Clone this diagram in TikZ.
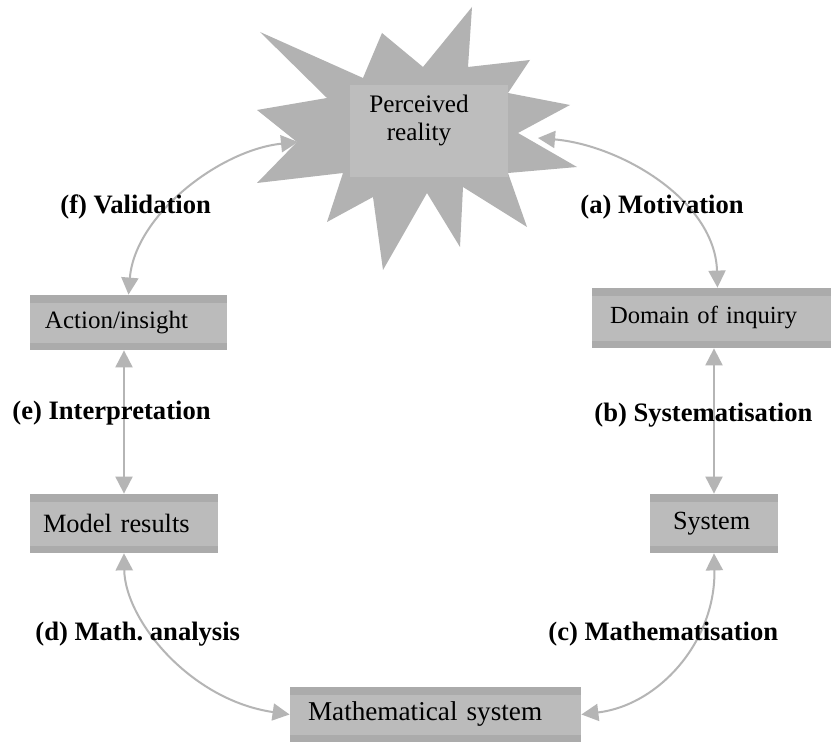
\documentclass[tikz,border=0pt]{standalone}
\usepackage{fontspec}
\setmainfont{Liberation Serif}
\usepackage{xcolor}
\usetikzlibrary{arrows.meta}
\frenchspacing

\definecolor{stargray}{HTML}{B2B2B2}
\definecolor{innergray}{HTML}{BDBDBD}
\definecolor{boxgray}{HTML}{BBBBBB}
\definecolor{bandgray}{HTML}{ABABAB}
\definecolor{arrowgray}{HTML}{B5B5B5}

\tikzset{
  stepbox/.style={fill=boxgray, inner ysep=0pt, align=left,
    font=\fontsize{12.8}{15}\selectfont,
    path picture={
      \fill[bandgray] (path picture bounding box.north west) rectangle ([yshift=-4pt]path picture bounding box.north east);
      \fill[bandgray] (path picture bounding box.south west) rectangle ([yshift=3.5pt]path picture bounding box.south east);
    }},
  steplabel/.style={anchor=west, inner sep=0pt, font=\fontsize{13.3}{16}\selectfont\bfseries},
  cyclearrow/.style={draw=arrowgray, line width=1pt,
    {Triangle[length=8.5pt,width=8.5pt]}-{Triangle[length=8.5pt,width=8.5pt]}}
}

\begin{document}
\begin{tikzpicture}[x=0.5pt, y=-0.5pt]
      \path[use as bounding box, fill=white] (0,0) rectangle (832,742);

      % Star burst
      \fill[stargray] (260,32) -- (363,78) -- (382,33) -- (423,67) -- (472,7) -- (468,67)
        -- (530,60) -- (508,93) -- (570,105) -- (518,133) -- (577,167) -- (508,173)
        -- (527,227) -- (463,187) -- (460,247) -- (427,193) -- (383,270) -- (373,197)
        -- (327,222) -- (343,173) -- (257,183) -- (297,142) -- (257,110) -- (327,98) -- cycle;
      \fill[innergray] (350,85) rectangle (508,177);
      \node[inner sep=0pt, align=center, font=\fontsize{12.6}{14}\selectfont]
        (reality) at (419,120) {Perceived\\reality};
      \coordinate (reality-w) at (298,142);
      \coordinate (reality-e) at (538,138);

      % Boxes
      \node[stepbox, minimum height=27.5pt, text width=83.5pt, inner xsep=7.5pt,
        font=\fontsize{12.5}{15}\selectfont] (action) at (128.5,322.5) {Action/insight};
      \node[stepbox, minimum height=30pt, text width=101.5pt, inner xsep=9pt,
        font=\fontsize{12.3}{15}\selectfont] (domain) at (711.5,318) {Domain of inquiry};
      \node[stepbox, minimum height=29.5pt, text width=81pt, inner xsep=6.5pt,
        font=\fontsize{13.2}{15}\selectfont] (model) at (124,523.5) {Model results};
      \node[stepbox, minimum height=29.5pt, text width=41pt, inner xsep=11.5pt,
        font=\fontsize{13.1}{15}\selectfont] (system) at (714,523.5) {System};
      \node[stepbox, minimum height=27.5pt, text width=127.5pt, inner xsep=9pt,
        font=\fontsize{13.6}{15}\selectfont] (math) at (435.5,714.5) {Mathematical system};

      % Arrows
      \draw[cyclearrow] (action.north) .. controls (135,215) and (220,150) .. (reality-w);
      \draw[cyclearrow] (reality-e) .. controls (620,145) and (715,200) .. ([xshift=3pt]domain.north);
      \draw[cyclearrow] (model.north |- action.south) -- (model.north);
      \draw[cyclearrow] (system.north |- domain.south) -- (system.north);
      \draw[cyclearrow] (model.south) .. controls (125,620) and (190,700) .. (math.west);
      \draw[cyclearrow] (system.south) .. controls (716,640) and (660,705) .. (math.east);

      % Labels
      \node[steplabel] (lbl-f) at (60,207) {(f) Validation};
      \node[steplabel] (lbl-a) at (580,207) {(a) Motivation};
      \node[steplabel] (lbl-e) at (12,413) {(e) Interpretation};
      \node[steplabel] (lbl-b) at (594,415) {(b) Systematisation};
      \node[steplabel] (lbl-d) at (35,634) {(d) Math. analysis};
      \node[steplabel] (lbl-c) at (548,634) {(c) Mathematisation};
\end{tikzpicture}
\end{document}
